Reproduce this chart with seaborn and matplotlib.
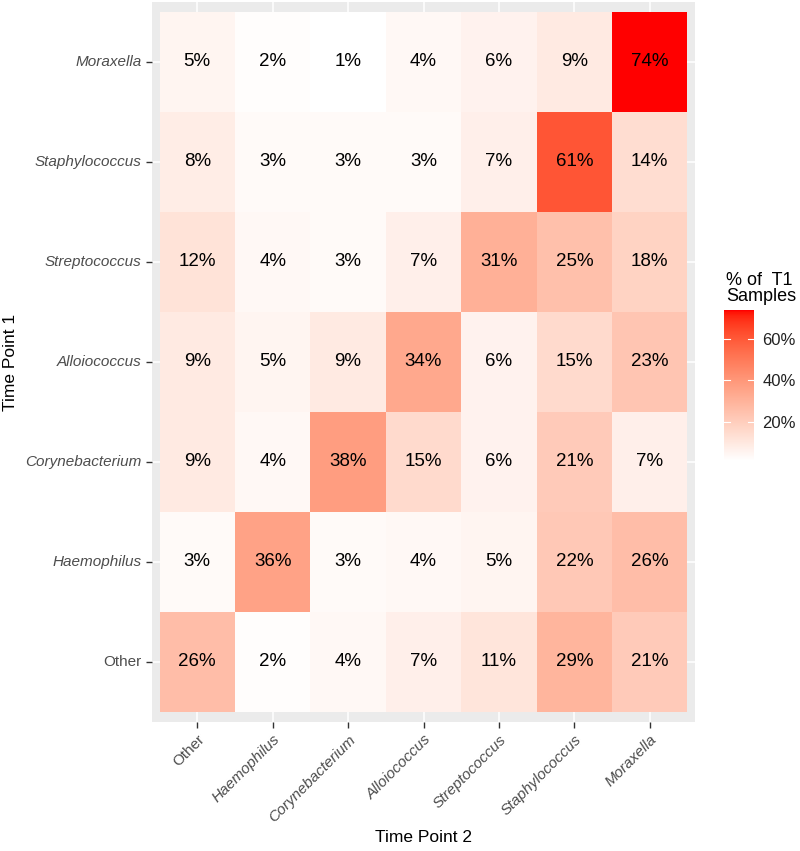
import numpy as np
import pandas as pd
import matplotlib
matplotlib.use("Agg")
import matplotlib.pyplot as plt
import seaborn as sns
from matplotlib.colors import ListedColormap
from matplotlib.ticker import FuncFormatter

rows = ["Moraxella", "Staphylococcus", "Streptococcus", "Alloiococcus",
        "Corynebacterium", "Haemophilus", "Other"]
cols = ["Other", "Haemophilus", "Corynebacterium", "Alloiococcus",
        "Streptococcus", "Staphylococcus", "Moraxella"]
values = [
    [5, 2, 1, 4, 6, 9, 74],
    [8, 3, 3, 3, 7, 61, 14],
    [12, 4, 3, 7, 31, 25, 18],
    [9, 5, 9, 34, 6, 15, 23],
    [9, 4, 38, 15, 6, 21, 7],
    [3, 36, 3, 4, 5, 22, 26],
    [26, 2, 4, 7, 11, 29, 21],
]


# white -> red gradient interpolated in CIE Lab space (as ggplot does)
def srgb_to_lab(rgb):
    rgb = np.asarray(rgb, float)
    lin = np.where(rgb <= 0.04045, rgb / 12.92, ((rgb + 0.055) / 1.055) ** 2.4)
    M = np.array([[0.4124, 0.3576, 0.1805],
                  [0.2126, 0.7152, 0.0722],
                  [0.0193, 0.1192, 0.9505]])
    xyz = M @ lin
    wp = np.array([0.95047, 1.0, 1.08883])
    t = xyz / wp
    f = np.where(t > (6 / 29) ** 3, np.cbrt(t), t / (3 * (6 / 29) ** 2) + 4 / 29)
    return np.array([116 * f[1] - 16, 500 * (f[0] - f[1]), 200 * (f[1] - f[2])])


def lab_to_srgb(lab):
    L, a, b = lab
    fy = (L + 16) / 116
    fx = fy + a / 500
    fz = fy - b / 200
    d = 6 / 29
    fin = lambda f: np.where(f > d, f ** 3, 3 * d ** 2 * (f - 4 / 29))
    wp = np.array([0.95047, 1.0, 1.08883])
    xyz = np.array([fin(fx), fin(fy), fin(fz)]) * wp
    Minv = np.array([[3.2406, -1.5372, -0.4986],
                     [-0.9689, 1.8758, 0.0415],
                     [0.0557, -0.2040, 1.0570]])
    lin = Minv @ xyz
    lin = np.clip(lin, 0, 1)
    rgb = np.where(lin <= 0.0031308, 12.92 * lin, 1.055 * lin ** (1 / 2.4) - 0.055)
    return np.clip(rgb, 0, 1)


lab_lo = srgb_to_lab([1, 1, 1])
lab_hi = srgb_to_lab([1, 0, 0])
cols_rgb = [lab_to_srgb(lab_lo + (lab_hi - lab_lo) * t) for t in np.linspace(0, 1, 256)]
cmap = ListedColormap(cols_rgb)

plt.rcParams['font.family'] = ['Liberation Sans', 'DejaVu Sans']
df = pd.DataFrame(values, index=rows, columns=cols)
annot = df.map(lambda v: f"{v}%")

fig = plt.figure(figsize=(8, 8.51), dpi=100)
W, H = 800, 851
ax = fig.add_axes([152 / W, 1 - 722 / H, (695 - 152) / W, (722 - 2) / H])
cax = fig.add_axes([724 / W, 1 - 461 / H, 30 / W, (461 - 310) / H])

ax.set_facecolor("#EBEBEB")
for c in np.arange(len(cols)) + 0.5:
    ax.axvline(c, color="white", lw=1.1, zorder=0)
for r in np.arange(len(rows)) + 0.5:
    ax.axhline(r, color="white", lw=1.1, zorder=0)

sns.heatmap(df, ax=ax, cbar_ax=cax, cmap=cmap, vmin=1, vmax=74,
            annot=annot, fmt="", annot_kws={"fontsize": 13.5, "color": "black"},
            cbar_kws={"format": FuncFormatter(lambda v, p: f"{v:.0f}%")})

ax.set_xlim(-0.1, len(cols) + 0.1)
ax.set_ylim(len(rows) + 0.1, -0.1)
for s in ax.spines.values():
    s.set_visible(False)

ax.tick_params(axis="both", length=4, width=1, color="#333333",
               labelcolor="#4D4D4D", labelsize=11)
ax.set_xticklabels(cols, rotation=45, ha="right", rotation_mode="anchor")
ax.set_yticklabels(rows, rotation=0)
for t in ax.get_xticklabels() + ax.get_yticklabels():
    t.set_fontstyle("normal" if t.get_text() == "Other" else "italic")

ax.set_xlabel("Time Point 2", fontsize=12.5)
ax.set_ylabel("Time Point 1", fontsize=12.5)
ax.xaxis.set_label_coords(0.5, (722 - 830) / 720)
ax.yaxis.set_label_coords((18 - 152) / 543, 0.5)

cax.set_yticks([20, 40, 60])
cax.tick_params(length=0, labelsize=12, labelcolor="#222222", pad=6)
for y in [20, 40, 60]:
    cax.plot([0, 0.2], [y, y], color="white", lw=0.8, transform=cax.get_yaxis_transform(), zorder=5)
    cax.plot([0.8, 1], [y, y], color="white", lw=0.8, transform=cax.get_yaxis_transform(), zorder=5)
for s in cax.spines.values():
    s.set_visible(False)
fig.text(726 / W, 1 - 305 / H, "% of  T1\nSamples", fontsize=13, va="bottom",
         ha="left", multialignment="left", linespacing=0.95)

fig.savefig("out.png", dpi=100)
